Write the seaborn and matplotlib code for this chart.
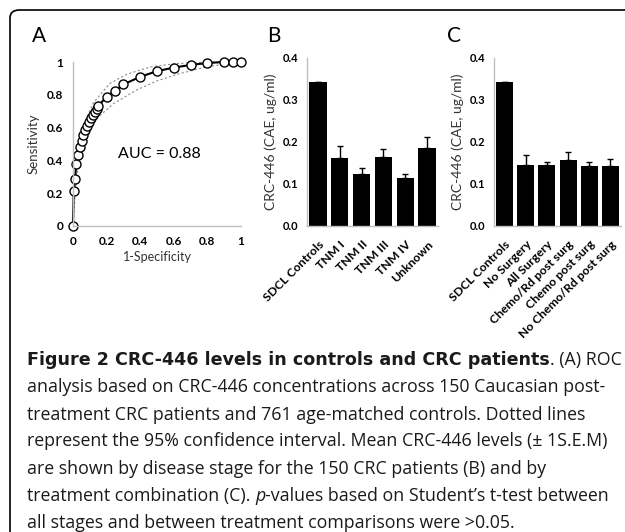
# plot.py: ROC curve and CRC-446 bar panels with a journal-style caption.

import matplotlib
matplotlib.use('Agg')
import matplotlib.pyplot as plt
from matplotlib.patches import FancyBboxPatch
from matplotlib.ticker import MultipleLocator, FixedLocator
import pandas as pd
import seaborn as sns


# ROC curve (panel A)
roc_fpr = [0, 0.004, 0.012, 0.02, 0.032, 0.04, 0.052, 0.06, 0.072, 0.084, 0.096,
           0.108, 0.12, 0.13, 0.14, 0.15, 0.2, 0.25, 0.3, 0.4, 0.5, 0.6, 0.7,
           0.8, 0.9, 0.95, 1.0]
roc_tpr = [0, 0.212, 0.285, 0.377, 0.435, 0.482, 0.52, 0.553, 0.583, 0.609, 0.634,
           0.656, 0.677, 0.698, 0.715, 0.732, 0.788, 0.826, 0.863, 0.91, 0.944,
           0.966, 0.982, 0.994, 1.0, 1.0, 1.0]
ci_upper_x = [0, 0.01, 0.03, 0.064, 0.12, 0.22, 0.32, 0.46, 0.61, 0.8, 1.0]
ci_upper_y = [0, 0.3, 0.46, 0.62, 0.75, 0.87, 0.925, 0.97, 0.99, 1.0, 1.0]
ci_lower_x = [0, 0.02, 0.05, 0.09, 0.14, 0.24, 0.38, 0.5, 0.62, 0.8, 1.0]
ci_lower_y = [0, 0.3, 0.44, 0.55, 0.655, 0.745, 0.83, 0.885, 0.925, 0.972, 1.0]
auc_text = 'AUC = 0.88'

# Panel B: disease stage
stage_labels = ['SDCL Controls', 'TNM I', 'TNM II', 'TNM III', 'TNM IV', 'Unknown']
stage_means = [0.342, 0.162, 0.125, 0.165, 0.115, 0.186]
stage_sem = [0.002, 0.028, 0.014, 0.018, 0.009, 0.026]

# Panel C: treatment combination
treat_labels = ['SDCL Controls', 'No Surgery', 'All Surgery', 'Chemo/Rd post surg',
                'Chemo post surg', 'No Chemo/Rd post surg']
treat_means = [0.342, 0.145, 0.145, 0.158, 0.144, 0.142]
treat_sem = [0.002, 0.023, 0.008, 0.018, 0.009, 0.018]

W, H = 625, 532
AXIS_GRAY = '#bfbfbf'

sns.set_theme(style='white')
plt.rcParams['font.family'] = ['Lato', 'DejaVu Sans']


def px_box(left, top, right, bottom):
    # pixel box -> figure fraction rect
    return [left / W, 1 - bottom / H, (right - left) / W, (bottom - top) / H]


def style_axes(ax):
    for side in ['top', 'right']:
        ax.spines[side].set_visible(False)
    for side in ['left', 'bottom']:
        ax.spines[side].set_color(AXIS_GRAY)
        ax.spines[side].set_linewidth(1.0)
    ax.tick_params(which='both', direction='out', color=AXIS_GRAY, width=0.8,
                   labelsize=8.5, labelcolor='black', pad=3)
    ax.tick_params(which='major', length=3)
    ax.tick_params(which='minor', length=2.5)
    for lab in ax.get_xticklabels() + ax.get_yticklabels():
        lab.set_fontweight('bold')


fig = plt.figure(figsize=(W / 100, H / 100), dpi=100)

# rounded frame around the figure
frame = FancyBboxPatch((10 / W, -0.2), 1.2, 1.2 - 10 / H,
                       boxstyle='round,pad=0,rounding_size=0.015',
                       transform=fig.transFigure, fill=False,
                       edgecolor='black', linewidth=1.2)
fig.patches.append(frame)

# ---- Panel A ----
axA = fig.add_axes(px_box(73, 62, 241, 226))
roc = pd.DataFrame({'fpr': roc_fpr, 'tpr': roc_tpr})
sns.lineplot(x=ci_upper_x, y=ci_upper_y, ax=axA, color='#8c8c8c', linewidth=0.8,
             linestyle=(0, (2, 2)), sort=False)
sns.lineplot(x=ci_lower_x, y=ci_lower_y, ax=axA, color='#8c8c8c', linewidth=0.8,
             linestyle=(0, (2, 2)), sort=False)
sns.lineplot(data=roc, x='fpr', y='tpr', ax=axA, color='black', linewidth=1.5,
             marker='o', markersize=6.5, markerfacecolor='white',
             markeredgecolor='black', markeredgewidth=1.0, sort=False)
for line in axA.lines:
    line.set_clip_on(False)
axA.set_xlim(0, 1)
axA.set_ylim(0, 1)
axA.set_xticks([0, 0.2, 0.4, 0.6, 0.8, 1])
axA.set_xticklabels(['0', '0.2', '0.4', '0.6', '0.8', '1'])
axA.set_yticks([0, 0.2, 0.4, 0.6, 0.8, 1])
axA.set_yticklabels(['0', '0.2', '0.4', '0.6', '0.8', '1'])
style_axes(axA)
axA.tick_params(axis='y', pad=4)
axA.tick_params(axis='x', pad=4)
axA.set_xlabel('1-Specificity', fontsize=9, color='#333333', labelpad=3)
axA.set_ylabel('Sensitivity', fontsize=9.5, color='#333333', labelpad=5)
axA.text(0.27, 0.44, auc_text, fontsize=11.5, va='center', ha='left', color='black')


def bar_panel(rect, labels, means, sem):
    ax = fig.add_axes(rect)
    df = pd.DataFrame({'group': labels, 'mean': means})
    sns.barplot(data=df, x='group', y='mean', ax=ax, color='black', width=0.8,
                saturation=1, edgecolor='black', linewidth=0)
    ax.errorbar(range(len(labels)), means, yerr=[[0] * len(sem), sem], fmt='none',
                ecolor='black', elinewidth=1.0, capsize=2.5, capthick=1.0)
    ax.set_xlim(-0.5, len(labels) - 0.5)
    ax.set_ylim(0, 0.4)
    ax.set_yticks([0, 0.1, 0.2, 0.3, 0.4])
    ax.set_yticklabels(['0.0', '0.1', '0.2', '0.3', '0.4'])
    ax.yaxis.set_minor_locator(MultipleLocator(0.02))
    ax.xaxis.set_minor_locator(FixedLocator([i - 0.5 for i in range(len(labels) + 1)]))
    ax.set_xlabel('')
    ax.set_ylabel('CRC-446 (CAE, ug/ml)', fontsize=10, color='#333333', labelpad=4)
    style_axes(ax)
    ax.tick_params(axis='y', labelsize=8)
    ax.tick_params(axis='x', which='major', length=0, pad=9)
    ax.tick_params(axis='x', which='minor', length=3)
    ax.set_xticks(range(len(labels)))
    ax.set_xticklabels(labels, rotation=45, ha='right', va='top',
                       rotation_mode='anchor', fontsize=8.8, fontweight='bold')
    return ax


axB = bar_panel(px_box(307, 58, 438, 226), stage_labels, stage_means, stage_sem)
axC = bar_panel(px_box(494, 58, 621, 226), treat_labels, treat_means, treat_sem)

# panel letters
for letter, x in [('A', 32), ('B', 267), ('C', 447)]:
    fig.text(x / W, 1 - 42 / H, letter, fontsize=15, ha='left', va='baseline',
             color='black', family=['Lato', 'DejaVu Sans'])

# ---- caption ----
cap_font = ['Open Sans', 'DejaVu Sans']
cap_size = 12.8
renderer = fig.canvas.get_renderer()


def caption_line(y_px, runs):
    x_px = 27
    for text, weight, style, family, size in runs:
        t = fig.text(x_px / W, 1 - y_px / H, text, fontsize=size, family=family,
                     fontweight=weight, fontstyle=style, ha='left', va='baseline',
                     color='#1a1a1a')
        bb = t.get_window_extent(renderer=renderer)
        x_px += bb.width


def run(text, weight='normal', style='normal', family=cap_font, size=cap_size):
    return (text, weight, style, family, size)


caption_line(365, [run('Figure 2 CRC-446 levels in controls and CRC patients', 'bold',
                       family=['DejaVu Sans'], size=12.6),
                   run('. (A) ROC')])
caption_line(392, [run('analysis based on CRC-446 concentrations across 150 Caucasian post-')])
caption_line(419.5, [run('treatment CRC patients and 761 age-matched controls. Dotted lines')])
caption_line(446.5, [run('represent the 95% confidence interval. Mean CRC-446 levels (\u00b1 1S.E.M)')])
caption_line(474, [run('are shown by disease stage for the 150 CRC patients (B) and by')])
caption_line(501, [run('treatment combination (C). '), run('p', style='italic'),
                   run('-values based on Student\u2019s t-test between')])
caption_line(528, [run('all stages and between treatment comparisons were >0.05.')])

plt.savefig('out.png', dpi=100)
